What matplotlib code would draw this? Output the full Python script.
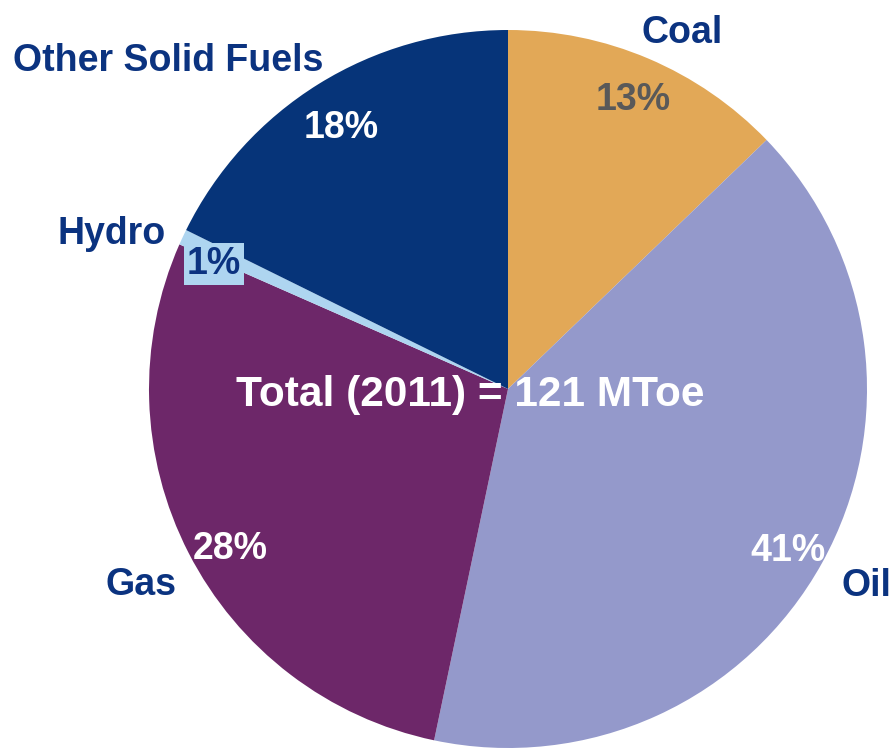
import matplotlib.pyplot as plt

plt.rcParams['font.family'] = ['Liberation Sans', 'DejaVu Sans']

# shares (clockwise from 12 o'clock)
fuels = ['Coal', 'Oil', 'Gas', 'Hydro', 'Other Solid Fuels']
shares = [12.8, 40.5, 28.3, 0.7, 17.7]
pct_labels = ['13%', '41%', '28%', '1%', '18%']
colors = ['#E2A857', '#9499CB', '#6D2769', '#AED5F0', '#063479']
pct_colors = ['#595959', 'white', 'white', '#0B3380', 'white']
total_text = 'Total (2011) = 121 MToe'

# label placement in pixel coords (x, y from top)
name_pos = [(682, 33), (866, 586), (141, 585), (112, 234), (168, 61)]
pct_pos = [(633, 100), (788, 551), (230, 549), (214, 264), (341, 128)]

W, H = 894, 754
navy = '#0B3380'

fig = plt.figure(figsize=(W / 100, H / 100), dpi=100)
ax = fig.add_axes([0, 0, 1, 1])

ax.pie(shares, colors=colors, startangle=90, counterclock=False,
       center=(508, H - 389), radius=359, frame=True)
ax.set_xlim(0, W)
ax.set_ylim(0, H)
ax.set_aspect('equal')
ax.axis('off')

for name, (x, y) in zip(fuels, name_pos):
    ax.text(x, H - y, name, ha='center', va='center', fontsize=27,
            fontweight='bold', color=navy)

for i, (lab, (x, y)) in enumerate(zip(pct_labels, pct_pos)):
    box = None
    if fuels[i] == 'Hydro':
        box = dict(boxstyle='square,pad=0.08', fc=colors[i], ec='none')
    ax.text(x, H - y, lab, ha='center', va='center', fontsize=27,
            fontweight='bold', color=pct_colors[i], bbox=box)

ax.text(470, H - 395, total_text, ha='center', va='center', fontsize=30.5,
        fontweight='bold', color='white')

fig.savefig('out.png', dpi=100)
